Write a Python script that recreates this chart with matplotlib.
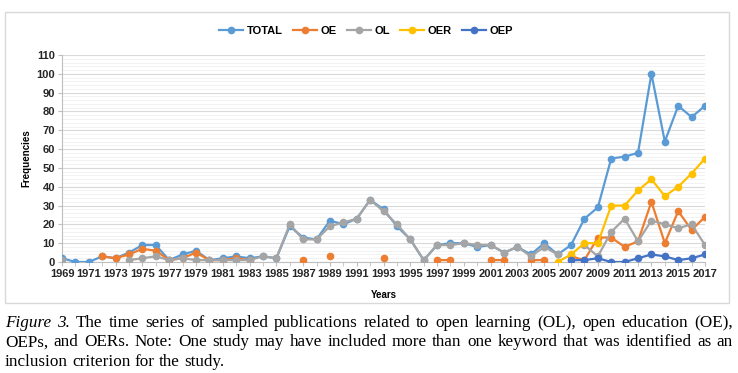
import matplotlib.pyplot as plt
import numpy as np
from matplotlib.patches import Rectangle
from matplotlib.ticker import MultipleLocator
from matplotlib.lines import Line2D

N = None
years = list(range(1969, 2018))

total = [2, 0, 0, 3, 2, 5, 9, 9, 1, 4, 6, 1, 2, 3, 2, 3, 2, 19, 13, 12,
         22, 20, 23, 33, 28, 19, 12, 1, 9, 10, 10, 8, 9, 5, 8, 4, 10, 4, 9, 23,
         29, 55, 56, 58, 100, 64, 83, 77, 83]
oe = [N, N, N, 3, 2, 4, 7, 6, 1, 2, 5, 1, 1, 2, 1, N, N, N, 1, N,
      3, N, N, N, 2, N, N, N, 1, 1, N, N, 1, 1, N, 1, 1, N, 3, 1,
      13, 13, 8, 11, 32, 10, 27, 17, 24]
ol = [1, N, N, N, N, 1, 2, 3, 1, 2, 1, 1, 1, 1, 1, 3, 2, 20, 12, 12,
      19, 21, 23, 33, 27, 20, 12, 1, 9, 9, 10, 9, 9, 5, 8, 3, 8, 4, N, 9,
      3, 16, 23, 11, 22, 20, 18, 20, 9]
oer = [N] * 37 + [0, 4, 10, 10, 30, 30, 38, 44, 35, 40, 47, 55]
oep = [N] * 38 + [1, 1, 2, 0, 0, 2, 4, 3, 1, 2, 4]

series = [("TOTAL", total, "#5B9BD5"), ("OE", oe, "#ED7D31"), ("OL", ol, "#A5A5A5"),
          ("OER", oer, "#FFC000"), ("OEP", oep, "#4472C4")]

caption1 = "The time series of sampled publications related to open learning (OL), open education (OE),"
caption2 = "OEPs, and OERs. Note: One study may have included more than one keyword that was identified as an"
caption3 = "inclusion criterion for the study."

plt.rcParams['font.family'] = ['Liberation Sans Narrow', 'Liberation Sans', 'DejaVu Sans']

W, H = 738, 373
fig = plt.figure(figsize=(W / 100, H / 100), dpi=100)

# chart area frame
fig.patches.append(Rectangle((5 / W, 1 - 303 / H), 724 / W, 291 / H, transform=fig.transFigure,
                             fill=False, edgecolor="#D9D9D9", lw=1))

ax = fig.add_axes([62 / W, 1 - 262 / H, 643 / W, 207 / H])
handles = []
for name, vals, col in series:
    y = np.array(vals, dtype=float)
    ax.plot(years, y, color=col, lw=1.6, marker="o", ms=4.5, zorder=3)
    handles.append(Line2D([], [], color=col, lw=1.6, marker="o", ms=4.5))

ax.set_xlim(1969, 2017)
ax.set_ylim(0, 110)
ax.yaxis.set_major_locator(MultipleLocator(10))
ax.yaxis.set_minor_locator(MultipleLocator(2))
ax.set_xticks(range(1969, 2018, 2))
ax.set_xticks(range(1969, 2018), minor=True)
ax.grid(axis="y", which="major", color="#D9D9D9", lw=0.8)
ax.grid(axis="y", which="minor", color="#F0F0F0", lw=0.6)
ax.set_axisbelow(True)
for s in ["top", "right"]:
    ax.spines[s].set_visible(False)
ax.spines["left"].set_color("#BFBFBF")
ax.spines["bottom"].set_color("#BFBFBF")
ax.tick_params(axis="both", which="major", labelsize=8, colors="#BFBFBF", labelcolor="#262626", length=3, pad=2)
ax.tick_params(axis="y", which="minor", length=0)
ax.tick_params(axis="x", which="minor", length=3, color="#BFBFBF")
for lab in ax.get_xticklabels() + ax.get_yticklabels():
    lab.set_fontweight("bold")
ax.set_ylabel("Frequencies", fontsize=7, fontweight="bold", labelpad=4)
ax.set_xlabel("Years", fontsize=7, fontweight="bold", labelpad=8)

fig.legend(handles, [s[0] for s in series], loc="center", bbox_to_anchor=(366 / W, 1 - 31 / H),
           ncol=5, frameon=False, prop={"size": 8, "weight": "bold"}, handlelength=2.2,
           columnspacing=0.9, handletextpad=0.3)

# caption, justified like the original
fig.canvas.draw()
r = fig.canvas.get_renderer()
cap_font = dict(family=["Liberation Serif"], size=12.3, color="black")


def put_line(words, ybase, justify=True):
    x0, x1 = 5, 733
    texts = []
    widths = []
    for w, style in words:
        t = fig.text(0, 1 - ybase / H, w, va="baseline", ha="left", style=style, **cap_font)
        texts.append(t)
        widths.append(t.get_window_extent(r).width)
    space = fig.text(0, 0, "a b", **cap_font).get_window_extent(r).width - \
        fig.text(0, 0, "ab", **cap_font).get_window_extent(r).width
    fig.texts[-2:] = []
    gap = (x1 - x0 - sum(widths)) / (len(words) - 1) if justify else space
    x = x0
    for t, w in zip(texts, widths):
        t.set_x(x / W)
        x += w + gap


put_line([("Figure", "italic"), ("3.", "italic")] + [(w, "normal") for w in caption1.split()], 327)
put_line([(w, "normal") for w in caption2.split()], 346.5)
put_line([(w, "normal") for w in caption3.split()], 366, justify=False)

fig.savefig("out.png", dpi=100)
